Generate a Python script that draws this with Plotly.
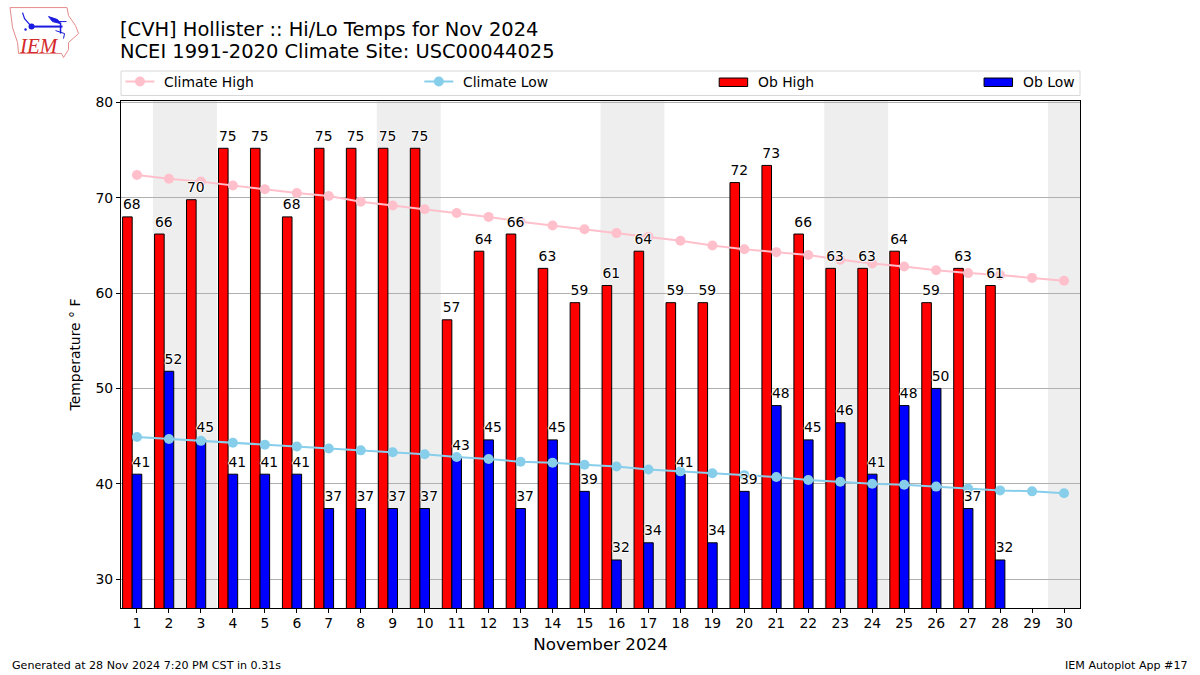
import plotly.graph_objects as go

days = list(range(1, 31))
ob_days = list(range(1, 29))
ob_high = [68, 66.2, 69.8, 75.2, 75.2, 68, 75.2, 75.2, 75.2, 75.2, 57.2, 64.4, 66.2, 62.6,
           59, 60.8, 64.4, 59, 59, 71.6, 73.4, 66.2, 62.6, 62.6, 64.4, 59, 62.6, 60.8]
ob_low = [41, 51.8, 44.6, 41, 41, 41, 37.4, 37.4, 37.4, 37.4, 42.8, 44.6, 37.4, 44.6,
          39.2, 32, 33.8, 41, 33.8, 39.2, 48.2, 44.6, 46.4, 41, 48.2, 50, 37.4, 32]
climate_high = [72.4, 72.0, 71.7, 71.3, 70.9, 70.5, 70.2, 69.6, 69.2, 68.8, 68.4, 68.0, 67.5, 67.1, 66.7,
                66.3, 65.9, 65.5, 65.0, 64.6, 64.3, 64.0, 63.5, 63.1, 62.8, 62.4, 62.1, 61.9, 61.6, 61.3]
climate_low = [44.9, 44.7, 44.5, 44.3, 44.1, 43.9, 43.7, 43.5, 43.3, 43.1, 42.8, 42.6, 42.3, 42.2, 42.0,
               41.8, 41.5, 41.3, 41.1, 40.9, 40.7, 40.4, 40.2, 40.0, 39.9, 39.7, 39.5, 39.3, 39.2, 39.0]
weekend_spans = [(1.5, 3.5), (8.5, 10.5), (15.5, 17.5), (22.5, 24.5), (29.5, 30.5)]
y_ticks = [30, 40, 50, 60, 70, 80]

FONT = "DejaVu Sans"
L, R, T, B = 120.5, 1080.0, 100.5, 608.0
PINK, SKY = "#ffc0cb", "#87ceeb"
HALO = "1px 0 1px #fff, -1px 0 1px #fff, 0 1px 1px #fff, 0 -1px 1px #fff"
LABEL_LIFT = 0.42


def px(x):
    return (x - L) / (R - L)


def py(y):
    return (B - y) / (B - T)


shapes, annotations = [], []

for a, b in weekend_spans:
    shapes.append(dict(type="rect", xref="x", yref="paper", x0=a, x1=b, y0=0, y1=1,
                       fillcolor="#eeeeee", line_width=0, layer="below"))


def label(x, y, text, size, anchor="left", color="#000000", **kw):
    annotations.append(dict(xref="paper", yref="paper", x=px(x), y=py(y), text=text, showarrow=False,
                            xanchor=anchor, yanchor="middle", align=anchor, borderpad=0, borderwidth=0,
                            font=dict(family=kw.pop("family", FONT), size=size, color=color), **kw))


def path(points, color, width, fill=None, close=False):
    d = "M " + " L ".join(f"{px(x):.5f},{py(y):.5f}" for x, y in points) + (" Z" if close else "")
    shapes.append(dict(type="path", xref="paper", yref="paper", path=d,
                       line=dict(color=color, width=width), fillcolor=fill))


def dot(cx, cy, r, color):
    shapes.append(dict(type="circle", xref="paper", yref="paper", x0=px(cx - r), x1=px(cx + r),
                       y0=py(cy + r), y1=py(cy - r), fillcolor=color, line_width=0))


# Titles and footer
label(119.5, 29, "[CVH] Hollister :: Hi/Lo Temps for Nov 2024", 19.45)
label(119.5, 51, "NCEI 1991-2020 Climate Site: USC00044025", 19.45)
label(11, 666, "Generated at 28 Nov 2024 7:20 PM CST in 0.31s", 11.1)
label(1188, 666, "IEM Autoplot App #17", 11.1, anchor="right")

# Legend box and entries
shapes.append(dict(type="rect", xref="paper", yref="paper", x0=px(120.5), x1=px(1080), y0=py(95), y1=py(70.5),
                   fillcolor="#ffffff", line=dict(color="#d8d8d8", width=1)))
for x0, color, text in [(125, PINK, "Climate High"), (424, SKY, "Climate Low")]:
    path([(x0, 81), (x0 + 29, 81)], color, 2)
    dot(x0 + 14.5, 81, 5, color)
    label(x0 + 38.5, 81, text, 13.9)
for x0, color, text in [(719, "#ff0000", "Ob High"), (984, "#0000ff", "Ob Low")]:
    shapes.append(dict(type="rect", xref="paper", yref="paper", x0=px(x0), x1=px(x0 + 28.5), y0=py(86),
                       y1=py(77.5), fillcolor=color, line=dict(color="#000000", width=1)))
    label(x0 + 38.5, 81, text, 13.9)

# IEM logo
path([(9.5, 7), (66.5, 7), (68, 15), (75, 25), (78, 33), (68, 42), (68, 49), (63, 57), (61, 53),
      (18, 53), (17, 42), (12, 27)], "#e58a8a", 1, close=True)
path([(31, 26), (62, 26)], "#1a1ae0", 2)
path([(31, 26), (24, 18), (22, 12)], "#1a1ae0", 1.2)
path([(48, 16), (57, 19), (60, 23), (52, 21)], "#1a1ae0", 1, fill="#1a1ae0", close=True)
path([(57, 21), (66, 21)], "#1a1ae0", 1)
path([(60, 22), (60, 33)], "#1a1ae0", 1.5)
path([(55, 30), (64, 33), (63, 38)], "#1a1ae0", 1)
dot(31, 26, 3, "#1a1ae0")
dot(25, 29, 1.2, "#1a1ae0")
label(38, 45, "<i>IEM</i>", 21, anchor="center", color="#d42a2a", family="Liberation Serif")

fig = go.Figure()
fig.add_bar(x=[d - 0.3 for d in ob_days], y=ob_high, width=0.3, name="Ob High",
            marker=dict(color="#ff0000", line=dict(color="#000000", width=1)))
fig.add_bar(x=ob_days, y=ob_low, width=0.3, name="Ob Low",
            marker=dict(color="#0000ff", line=dict(color="#000000", width=1)))
fig.add_scatter(x=days, y=climate_high, name="Climate High", mode="lines+markers",
                line=dict(color=PINK, width=2), marker=dict(color=PINK, size=10))
fig.add_scatter(x=days, y=climate_low, name="Climate Low", mode="lines+markers",
                line=dict(color=SKY, width=2), marker=dict(color=SKY, size=10))
label_font = dict(family=FONT, size=13.9, color="#000000", shadow=HALO)
fig.add_scatter(x=[d - 0.16 for d in ob_days], y=[v + LABEL_LIFT for v in ob_high], mode="text",
                text=[str(round(v)) for v in ob_high],
                textposition="top center", textfont=label_font, name="High labels")
fig.add_scatter(x=[d + 0.14 for d in ob_days], y=[v + LABEL_LIFT for v in ob_low], mode="text",
                text=[str(round(v)) for v in ob_low],
                textposition="top center", textfont=label_font, name="Low labels")

axis_common = dict(showline=True, linecolor="#000000", linewidth=1, mirror=True, ticks="outside", ticklen=4,
                   tickwidth=1, tickcolor="#000000", tickfont=dict(family=FONT, size=13.9, color="#000000"),
                   zeroline=False)
fig.update_layout(
    width=1200, height=675, autosize=False, showlegend=False, barmode="overlay",
    paper_bgcolor="#ffffff", plot_bgcolor="rgba(0,0,0,0)",
    margin=dict(l=L, r=1200 - R, t=T, b=675 - B, pad=0),
    xaxis=dict(range=[0.5, 30.5], tickvals=days, showgrid=False, ticklabelstandoff=-2,
               title=dict(text="November 2024", font=dict(family=FONT, size=16.7, color="#000000"), standoff=8),
               **axis_common),
    yaxis=dict(range=[26.96, 80.16], tickvals=y_ticks, showgrid=True, gridcolor="#b0b0b0", gridwidth=1,
               title=dict(text="Temperature ° F", font=dict(family=FONT, size=13.9, color="#000000"), standoff=11),
               **axis_common),
    shapes=shapes, annotations=annotations,
)
fig.write_html("out.html", config=dict(displayModeBar=False),
               post_script="document.body.style.margin='0';document.body.style.overflow='hidden';")
